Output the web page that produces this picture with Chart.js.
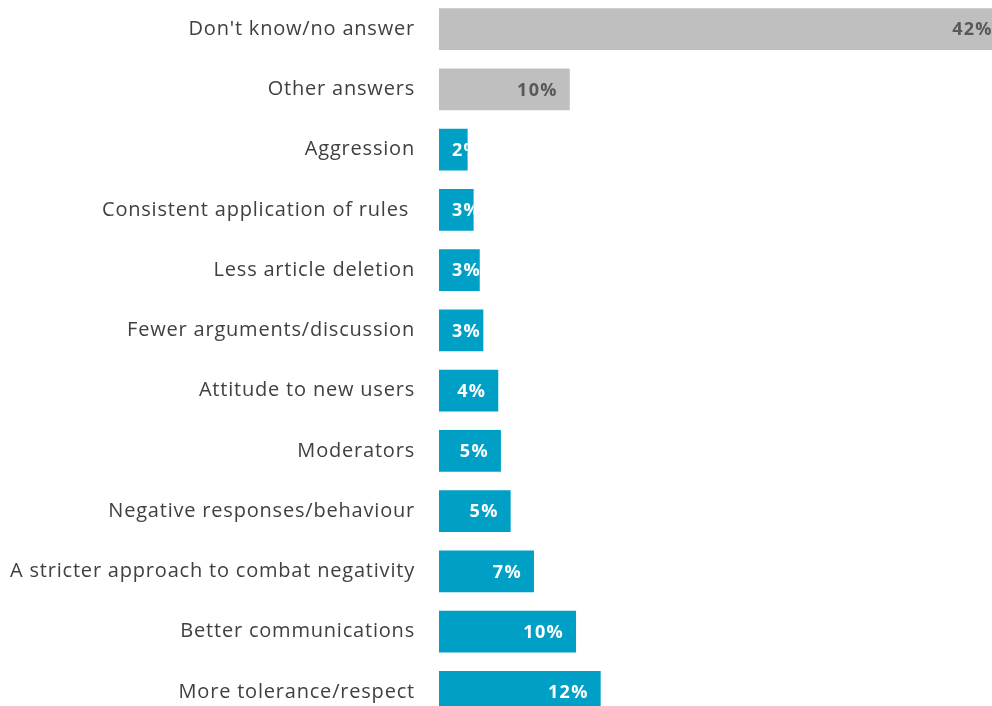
<!DOCTYPE html>
<html>
<head>
<meta charset="utf-8">
<script src="https://cdn.jsdelivr.net/npm/chart.js@4/dist/chart.umd.min.js"></script>
<style>
  html, body { margin: 0; padding: 0; background: #ffffff; overflow: hidden; width: 992px; height: 706px; }
  #wrap { position: absolute; left: 0; top: -1px; width: 1012px; height: 723px; }
</style>
</head>
<body>
<div id="wrap"><canvas id="c"></canvas></div>
<script>
const categories = [
  "Don't know/no answer",
  "Other answers",
  "Aggression",
  "Consistent application of rules ",
  "Less article deletion",
  "Fewer arguments/discussion",
  "Attitude to new users",
  "Moderators",
  "Negative responses/behaviour",
  "A stricter approach to combat negativity",
  "Better communications",
  "More tolerance/respect"
];
const values = [42.49, 9.82, 2.15, 2.6, 3.06, 3.33, 4.45, 4.65, 5.38, 7.13, 10.29, 12.14];
const valueLabels = ["42%", "10%", "2%", "3%", "3%", "3%", "4%", "5%", "5%", "7%", "10%", "12%"];
const greyCategories = ["Don't know/no answer", "Other answers"];

const BLUE = '#00A0C6';
const GREY = '#BFBFBF';

const spacingPlugin = {
  id: 'spacing',
  beforeDraw(chart) {
    if ('letterSpacing' in chart.ctx) chart.ctx.letterSpacing = '0.8px';
  }
};

const valueLabelPlugin = {
  id: 'valueLabels',
  afterDatasetsDraw(chart) {
    const ctx = chart.ctx;
    const meta = chart.getDatasetMeta(0);
    ctx.save();
    ctx.font = 'bold 18px "Open Sans"';
    if ('letterSpacing' in ctx) ctx.letterSpacing = '1.3px';
    ctx.textBaseline = 'middle';
    ctx.textAlign = 'left';
    meta.data.forEach((bar, i) => {
      const txt = valueLabels[i];
      const w = ctx.measureText(txt).width;
      const left = Math.min(bar.base, bar.x);
      const right = Math.max(bar.base, bar.x);
      const h = bar.height;
      const x = Math.max(right - 12 - w, left + 13);
      ctx.save();
      ctx.beginPath();
      ctx.rect(left, bar.y - h / 2, right - left, h);
      ctx.clip();
      ctx.fillStyle = greyCategories.includes(categories[i]) ? '#595959' : '#ffffff';
      ctx.fillText(txt, x, bar.y + 1);
      ctx.restore();
    });
    ctx.restore();
  }
};

new Chart(document.getElementById('c'), {
  type: 'bar',
  data: {
    labels: categories,
    datasets: [{
      data: values,
      backgroundColor: (c) => greyCategories.includes(categories[c.dataIndex]) ? GREY : BLUE,
      borderWidth: 0,
      categoryPercentage: 1.0,
      barPercentage: 0.697
    }]
  },
  options: {
    indexAxis: 'y',
    responsive: true,
    maintainAspectRatio: false,
    animation: false,
    layout: { padding: { left: 0, right: 1, top: 0, bottom: 0 } },
    plugins: { legend: { display: false }, tooltip: { enabled: false } },
    scales: {
      x: { display: false, min: 0, max: 42.95 },
      y: {
        grid: { display: false, drawTicks: false },
        border: { display: false },
        ticks: {
          padding: 24,
          color: '#404040',
          font: { family: '"Open Sans"', size: 20 },
          autoSkip: false
        },
        afterFit(scale) {
          scale.width = 439;
          scale.paddingTop = 0;
          scale.paddingBottom = 0;
        }
      }
    }
  },
  plugins: [spacingPlugin, valueLabelPlugin]
});
</script>
</body>
</html>
